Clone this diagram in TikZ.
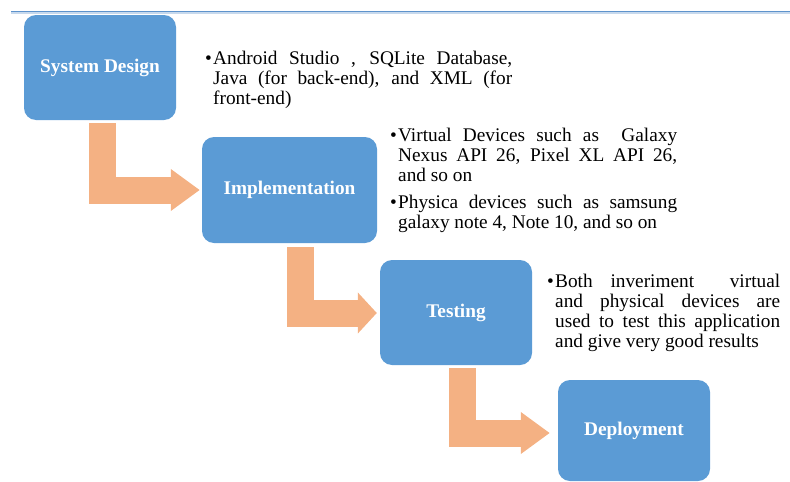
\documentclass[tikz,border=0pt]{standalone}
\usepackage{fontspec}
\setmainfont{Liberation Serif}
\usetikzlibrary{arrows.meta}

\definecolor{stageblue}{HTML}{5B9BD5}
\definecolor{floworange}{HTML}{F4B183}
\definecolor{ruleblue}{HTML}{5E93CC}

\newcommand{\bitem}{\hangindent=8pt\hangafter=1\noindent\makebox[8pt][l]{\textbullet}}

\tikzset{
  stage/.style={fill=stageblue, rounded corners=12pt, minimum width=152pt, minimum height=105pt,
                inner sep=0pt, text=white, font=\fontsize{19.3}{20}\selectfont\bfseries},
  notes/.style={anchor=base west, inner sep=0pt, align=justify, font=\fontsize{19.3}{20}\selectfont},
  flow/.style={draw=floworange, line width=27pt, -{Triangle[length=#1,width=40pt]}},
  flow/.default=29pt
}

\begin{document}
\begin{tikzpicture}[x=1pt,y=-1pt]
          \useasboundingbox (0,0) rectangle (790,482);
          \draw[ruleblue!35, line width=1.2pt] (11,13) -- (790,13);
          \draw[ruleblue, line width=1.4pt] (11,11.5) -- (790,11.5);

          \node[stage] (design) at (100,67.5) {System Design};
          \node[stage, minimum width=175pt, minimum height=106pt] (impl) at (289.5,190) {Implementation};
          \node[stage] (test) at (456,312.5) {Testing};
          \node[stage, minimum height=101pt] (deploy) at (634,430.5) {Deployment};

          \node[notes, text width=307pt] (designnote) at (205,64)
            {\bitem Android Studio , SQLite Database,\linebreak Java (for back-end), and XML (for\linebreak front-end)\par};
          \node[notes, text width=287pt] (implnote) at (390,141.7)
            {\bitem Virtual Devices such as~ Galaxy\linebreak Nexus API 26, Pixel XL API 26,\linebreak and so on\par\vspace{6.6pt}%
             \bitem Physica devices such as samsung\linebreak galaxy note 4, Note 10, and so on\par};
          \node[notes, text width=233pt] (testnote) at (547,287)
            {\bitem Both inveriment~ virtual\linebreak and physical devices are\linebreak used to test this application\linebreak and give very good results\par};

          \draw[flow] ([xshift=2.5pt,yshift=-3pt]design.south) |- ([xshift=-2pt]impl.west);
          \draw[flow=19pt] ([xshift=10.5pt,yshift=-4pt]impl.south) |- ([xshift=-3pt,yshift=-0.5pt]test.west);
          \draw[flow] ([xshift=6.5pt,yshift=-3pt]test.south) |- ([xshift=-8pt,yshift=-2.5pt]deploy.west);
\end{tikzpicture}
\end{document}
